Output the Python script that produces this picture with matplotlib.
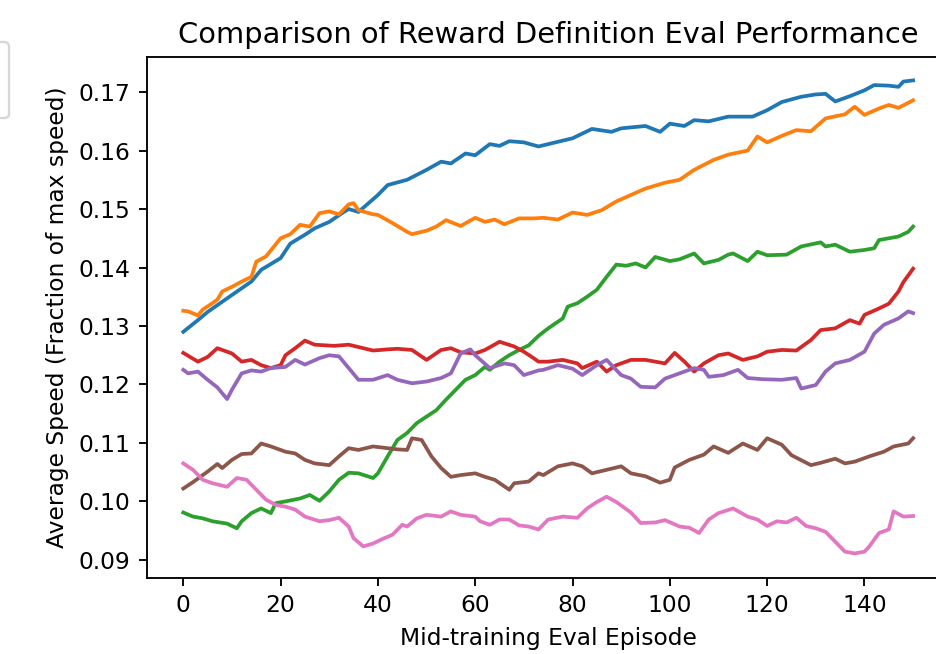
import matplotlib
matplotlib.use("Agg")
import matplotlib.pyplot as plt

# ---- data ----
blue_x = [0, 3, 5, 10, 14, 16, 20, 22, 25, 27, 30, 33, 34, 36, 40, 42, 46, 50, 53, 55, 58, 60, 63, 65, 67, 70, 73,
          77, 80, 84, 88, 90, 95, 98, 100, 103, 105, 108, 112, 117, 120, 123, 127, 130, 132, 134, 137, 140, 142, 145,
          147, 148, 150]
blue_y = [0.1290, 0.1310, 0.1324, 0.1353, 0.1376, 0.1396, 0.1416, 0.1441, 0.1456, 0.1467, 0.1478, 0.1495, 0.1500,
          0.1495, 0.1524, 0.1541, 0.1550, 0.1567, 0.1581, 0.1578, 0.1595, 0.1592, 0.1611, 0.1608, 0.1616, 0.1614,
          0.1607, 0.1615, 0.1621, 0.1637, 0.1632, 0.1638, 0.1642, 0.1632, 0.1646, 0.1642, 0.1652, 0.1650, 0.1658,
          0.1658, 0.1669, 0.1683, 0.1692, 0.1696, 0.1697, 0.1684, 0.1693, 0.1703, 0.1712, 0.1711, 0.1709, 0.1718,
          0.1720]

orange_x = [0, 1, 3, 4, 6, 7, 8, 10, 12, 14, 15, 17, 20, 22, 24, 26, 28, 30, 32, 34, 35, 36, 39, 40, 43, 46, 47, 50,
            52, 54, 57, 60, 62, 64, 66, 69, 72, 74, 77, 80, 83, 86, 89, 92, 95, 99, 102, 105, 109, 112, 116, 118, 120,
            123, 126, 129, 132, 136, 138, 140, 143, 145, 147, 150]
orange_y = [0.1326, 0.1325, 0.1318, 0.1328, 0.1339, 0.1345, 0.1359, 0.1367, 0.1376, 0.1384, 0.1410, 0.1419, 0.1450,
            0.1457, 0.1473, 0.1470, 0.1493, 0.1496, 0.1491, 0.1508, 0.1510, 0.1498, 0.1491, 0.1490, 0.1476, 0.1461,
            0.1457, 0.1463, 0.1470, 0.1481, 0.1471, 0.1485, 0.1478, 0.1482, 0.1474, 0.1484, 0.1484, 0.1485, 0.1482,
            0.1494, 0.1490, 0.1498, 0.1513, 0.1524, 0.1535, 0.1545, 0.1550, 0.1567, 0.1584, 0.1593, 0.1600, 0.1624,
            0.1614, 0.1625, 0.1635, 0.1633, 0.1655, 0.1662, 0.1675, 0.1661, 0.1672, 0.1678, 0.1673, 0.1686]

green_x = [0, 2, 4, 6, 9, 11, 12, 14, 16, 18, 19, 21, 24, 26, 28, 30, 32, 34, 36, 39, 40, 42, 44, 46, 48, 50, 52, 54,
           56, 58, 60, 62, 63, 65, 67, 69, 71, 73, 75, 78, 79, 81, 83, 85, 87, 89, 91, 93, 95, 97, 100, 102, 105, 107,
           110, 112, 113, 116, 118, 120, 124, 127, 131, 132, 134, 137, 140, 142, 143, 147, 149, 150]
green_y = [0.0981, 0.0974, 0.0971, 0.0966, 0.0962, 0.0954, 0.0966, 0.0980, 0.0988, 0.0980, 0.0997, 0.1000, 0.1005,
           0.1011, 0.1001, 0.1017, 0.1037, 0.1049, 0.1048, 0.1040, 0.1048, 0.1077, 0.1105, 0.1117, 0.1134, 0.1145,
           0.1156, 0.1174, 0.1191, 0.1208, 0.1216, 0.1230, 0.1225, 0.1239, 0.1250, 0.1259, 0.1267, 0.1283, 0.1296,
           0.1313, 0.1333, 0.1339, 0.1350, 0.1362, 0.1384, 0.1405, 0.1403, 0.1407, 0.1400, 0.1418, 0.1411, 0.1414,
           0.1424, 0.1407, 0.1413, 0.1422, 0.1424, 0.1411, 0.1427, 0.1421, 0.1422, 0.1436, 0.1443, 0.1436, 0.1439,
           0.1427, 0.1430, 0.1433, 0.1447, 0.1453, 0.1461, 0.1470]

red_x = [0, 3, 5, 7, 10, 12, 14, 16, 18, 20, 21, 23, 25, 27, 31, 34, 36, 39, 42, 44, 47, 50, 53, 55, 57, 60, 62, 65,
         68, 70, 72, 73, 75, 78, 81, 82, 85, 87, 89, 92, 95, 97, 99, 101, 103, 105, 107, 110, 112, 115, 118, 120, 123,
         126, 129, 131, 134, 137, 139, 140, 143, 145, 147, 148, 150]
red_y = [0.1254, 0.1239, 0.1247, 0.1262, 0.1253, 0.1239, 0.1242, 0.1233, 0.1228, 0.1233, 0.1250, 0.1262, 0.1275,
         0.1268, 0.1266, 0.1268, 0.1264, 0.1258, 0.1260, 0.1261, 0.1259, 0.1242, 0.1259, 0.1262, 0.1255, 0.1253,
         0.1259, 0.1273, 0.1265, 0.1256, 0.1245, 0.1239, 0.1239, 0.1242, 0.1236, 0.1228, 0.1239, 0.1222, 0.1233,
         0.1242, 0.1242, 0.1239, 0.1236, 0.1254, 0.1239, 0.1222, 0.1236, 0.1250, 0.1253, 0.1242, 0.1248, 0.1256,
         0.1259, 0.1258, 0.1276, 0.1293, 0.1296, 0.1310, 0.1304, 0.1319, 0.1330, 0.1338, 0.1359, 0.1375, 0.1398]

purple_x = [0, 1, 3, 5, 7, 9, 10, 12, 14, 16, 18, 21, 23, 25, 28, 30, 32, 34, 36, 39, 42, 44, 47, 50, 53, 55, 57, 59,
            60, 63, 66, 68, 70, 73, 74, 77, 80, 82, 85, 87, 90, 92, 94, 97, 99, 102, 105, 107, 108, 111, 114, 116, 119,
            123, 126, 127, 130, 132, 134, 137, 140, 142, 144, 147, 149, 150]
purple_y = [0.1225, 0.1219, 0.1222, 0.1208, 0.1195, 0.1175, 0.1191, 0.1219, 0.1224, 0.1222, 0.1228, 0.1230, 0.1242,
            0.1234, 0.1245, 0.1250, 0.1248, 0.1228, 0.1208, 0.1208, 0.1216, 0.1208, 0.1202, 0.1205, 0.1211, 0.1219,
            0.1253, 0.1260, 0.1250, 0.1228, 0.1236, 0.1233, 0.1216, 0.1224, 0.1225, 0.1233, 0.1227, 0.1216, 0.1233,
            0.1242, 0.1216, 0.1210, 0.1196, 0.1195, 0.1210, 0.1219, 0.1228, 0.1225, 0.1213, 0.1216, 0.1225, 0.1211,
            0.1209, 0.1208, 0.1211, 0.1193, 0.1199, 0.1222, 0.1236, 0.1242, 0.1256, 0.1287, 0.1302, 0.1313, 0.1325,
            0.1322]

brown_x = [0, 2, 5, 7, 8, 10, 12, 14, 16, 18, 21, 23, 25, 27, 30, 32, 34, 36, 39, 42, 44, 46, 47, 49, 51, 53, 55, 57,
           60, 62, 64, 67, 68, 71, 73, 74, 77, 80, 82, 84, 87, 90, 92, 95, 98, 100, 101, 104, 107, 109, 112, 115, 118,
           120, 123, 125, 129, 131, 134, 136, 138, 141, 144, 146, 149, 150]
brown_y = [0.1022, 0.1033, 0.1051, 0.1064, 0.1057, 0.1071, 0.1081, 0.1082, 0.1099, 0.1094, 0.1085, 0.1082, 0.1071,
           0.1065, 0.1062, 0.1077, 0.1091, 0.1088, 0.1094, 0.1091, 0.1089, 0.1088, 0.1108, 0.1105, 0.1077, 0.1057,
           0.1042, 0.1045, 0.1048, 0.1042, 0.1037, 0.1020, 0.1031, 0.1034, 0.1048, 0.1045, 0.1060, 0.1065, 0.1060,
           0.1048, 0.1054, 0.1060, 0.1048, 0.1043, 0.1032, 0.1037, 0.1058, 0.1071, 0.1080, 0.1094, 0.1083, 0.1099,
           0.1088, 0.1108, 0.1097, 0.1079, 0.1062, 0.1066, 0.1073, 0.1065, 0.1068, 0.1077, 0.1085, 0.1094, 0.1099,
           0.1108]

pink_x = [0, 2, 4, 6, 9, 11, 13, 15, 17, 19, 21, 23, 25, 28, 30, 32, 34, 35, 37, 39, 41, 43, 45, 46, 48, 50, 53, 55,
          57, 60, 61, 63, 65, 67, 69, 71, 73, 75, 78, 81, 83, 85, 87, 89, 92, 94, 97, 99, 102, 104, 106, 108, 110, 113,
          116, 118, 120, 122, 124, 126, 128, 130, 132, 134, 136, 138, 140, 141, 143, 145, 146, 148, 150]
pink_y = [0.1065, 0.1054, 0.1037, 0.1031, 0.1025, 0.1040, 0.1037, 0.1020, 0.1003, 0.0994, 0.0991, 0.0986, 0.0974,
          0.0966, 0.0968, 0.0972, 0.0957, 0.0937, 0.0923, 0.0928, 0.0936, 0.0943, 0.0960, 0.0957, 0.0971, 0.0977,
          0.0974, 0.0983, 0.0977, 0.0974, 0.0966, 0.0960, 0.0969, 0.0969, 0.0959, 0.0957, 0.0952, 0.0969, 0.0974,
          0.0972, 0.0988, 0.0999, 0.1008, 0.0999, 0.0981, 0.0963, 0.0964, 0.0968, 0.0957, 0.0955, 0.0946, 0.0969,
          0.0980, 0.0988, 0.0974, 0.0969, 0.0958, 0.0966, 0.0964, 0.0972, 0.0958, 0.0954, 0.0948, 0.0931, 0.0914,
          0.0911, 0.0914, 0.0923, 0.0946, 0.0952, 0.0983, 0.0974, 0.0975]

labels = ["Reward 1", "Reward 2", "Reward 3", "Reward 4", "Reward 5", "Reward 6", "Reward 7"]
series = [(blue_x, blue_y), (orange_x, orange_y), (green_x, green_y), (red_x, red_y),
          (purple_x, purple_y), (brown_x, brown_y), (pink_x, pink_y)]

title = "Comparison of Reward Definition Eval Performance"
xlabel = "Mid-training Eval Episode"
ylabel = "Average Speed (Fraction of max speed)"
xticks = [0, 20, 40, 60, 80, 100, 120, 140]
yticks = [0.09, 0.10, 0.11, 0.12, 0.13, 0.14, 0.15, 0.16, 0.17]

# ---- figure ----
DPI = 168
fig = plt.figure(figsize=(936 / DPI, 654 / DPI), dpi=DPI)
W, H = 936, 654
ax = fig.add_axes([146.8 / W, 1 - 578 / H, (949.6 - 146.8) / W, (578 - 57) / H])

for (xs, ys), lab in zip(series, labels):
    ax.plot(xs, ys, label=lab, linewidth=1.6)

ax.set_xlim(-7.5, 157.5)
ax.set_ylim(0.0869, 0.176)
ax.set_xticks(xticks)
ax.set_yticks(yticks)
ax.set_yticklabels([f"{v:.2f}" for v in yticks])
ax.set_title(title, fontsize=12.4)
ax.set_xlabel(xlabel)
ax.set_ylabel(ylabel)

fig.legend(loc="upper right", bbox_to_anchor=(9 / W, 1 - 42 / H), bbox_transform=fig.transFigure,
           ncol=4, borderaxespad=0)

fig.savefig("out.png", dpi=DPI)
